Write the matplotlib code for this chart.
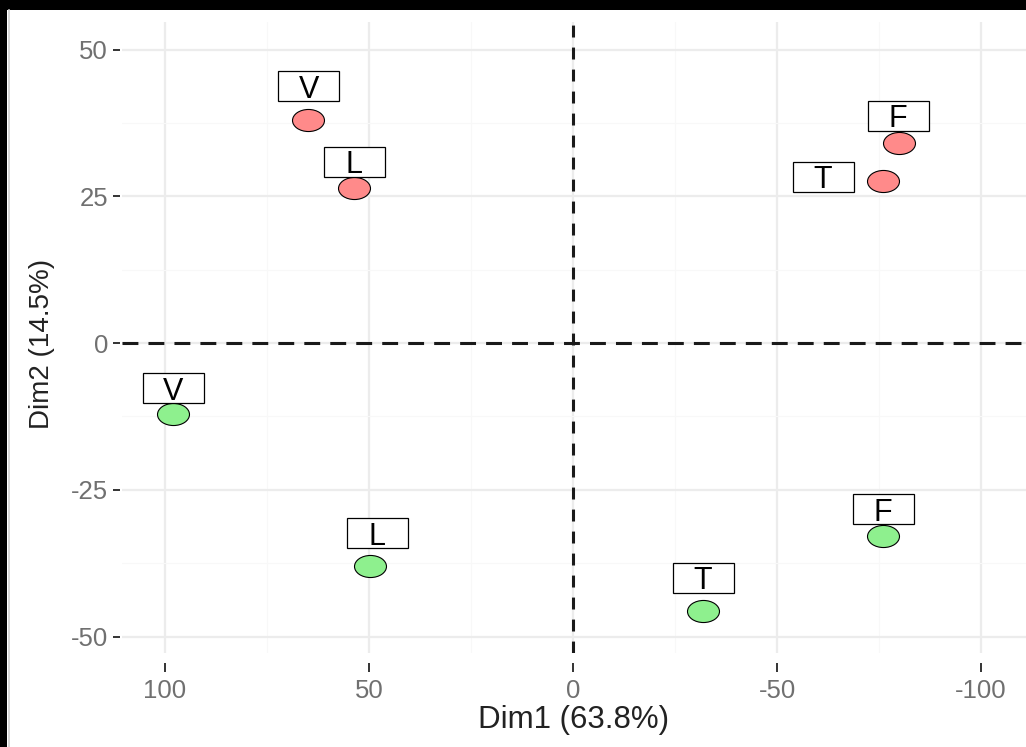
import matplotlib
matplotlib.use('Agg')
import matplotlib.pyplot as plt
from matplotlib.patches import Rectangle
from matplotlib.lines import Line2D
from matplotlib.path import Path
from matplotlib.transforms import Affine2D

plt.rcParams['font.family'] = ['Liberation Sans', 'DejaVu Sans']

# individuals: first group (red) and second group (green)
red_names = ['V', 'L', 'F', 'T']
red_dim1 = [65.0, 53.7, -79.9, -76.0]
red_dim2 = [38.0, 26.4, 34.1, 27.6]
red_lab_x = [64.7, 53.6, -79.7, -61.3]
red_lab_y = [43.8, 30.9, 38.7, 28.3]

green_names = ['V', 'L', 'F', 'T']
green_dim1 = [98.0, 49.8, -76.0, -31.9]
green_dim2 = [-12.1, -38.0, -32.9, -45.7]
green_lab_x = [98.0, 48.0, -76.0, -31.9]
green_lab_y = [-7.7, -32.4, -28.3, -40.0]

x_ticks = [100, 50, 0, -50, -100]
x_ticklabels = ['100', '50', '0', '-50', '-100']
y_ticks = [50, 25, 0, -25, -50]
y_ticklabels = ['50', '25', '0', '-25', '-50']

W, H = 1026, 747
fig = plt.figure(figsize=(W / 100, H / 100), dpi=100, facecolor='black')
fig.add_artist(Rectangle((7 / W, 0), 1, 737 / H, transform=fig.transFigure,
                         facecolor='white', edgecolor='none', zorder=-10))
fig.add_artist(Line2D([8.5 / W, 8.5 / W], [0, 737 / H], transform=fig.transFigure,
                      color='#cfcfcf', lw=1.2))

left_px, right_px, top_px, bottom_px = 122, 1026, 22, 653
ax = fig.add_axes([left_px / W, (H - bottom_px) / H,
                   (right_px - left_px) / W, (bottom_px - top_px) / H])
ax.set_facecolor('white')
xlim = (110.5, -111.0)
ylim = (-52.8, 54.7)
ax.set_xlim(*xlim)
ax.set_ylim(*ylim)

ax.set_xticks(x_ticks)
ax.set_xticklabels(x_ticklabels)
ax.set_yticks(y_ticks)
ax.set_yticklabels(y_ticklabels)
ax.set_xticks([75, 25, -25, -75], minor=True)
ax.set_yticks([37.5, 12.5, -12.5, -37.5], minor=True)
ax.grid(which='major', color='#ececec', lw=1.6)
ax.grid(which='minor', color='#f8f8f8', lw=0.8)
ax.set_axisbelow(True)
for s in ax.spines.values():
    s.set_visible(False)
ax.spines['bottom'].set_position(('outward', 7))
ax.spines['left'].set_position(('outward', 1.5))
ax.tick_params(which='minor', length=0)
ax.tick_params(axis='x', which='major', length=6.5, width=1.4, color='#333333',
               labelsize=18.5, labelcolor='#707070', pad=5)
ax.tick_params(axis='y', which='major', length=5, width=1.4, color='#333333',
               labelsize=18.5, labelcolor='#707070', pad=3.5)

# reference lines
ax.axvline(0, color='#1a1a1a', lw=2.2, dashes=(3.9, 3.3), zorder=2)
ax.axhline(0, color='#1a1a1a', lw=2.2, dashes=(5.2, 3.3), zorder=2)

# ellipse marker
ellipse = Affine2D().scale(1, 0.69).transform_path(Path.unit_circle())
ax.scatter(red_dim1, red_dim2, s=530, marker=ellipse, facecolor='#ff8a8a',
           edgecolor='black', linewidths=0.8, zorder=4)
ax.scatter(green_dim1, green_dim2, s=530, marker=ellipse, facecolor='#8ef08e',
           edgecolor='black', linewidths=0.8, zorder=4)

# label boxes (fixed 61x30 px)
ux = (xlim[0] - xlim[1]) / (right_px - left_px)
uy = (ylim[1] - ylim[0]) / (bottom_px - top_px)
bw, bh = 61 * ux, 30 * uy
for names, lx, ly in [(red_names, red_lab_x, red_lab_y),
                      (green_names, green_lab_x, green_lab_y)]:
    for n, x, y in zip(names, lx, ly):
        ax.add_patch(Rectangle((x - bw / 2, y - bh / 2), bw, bh, facecolor='white',
                               edgecolor='black', lw=0.9, zorder=5))
        ax.annotate(n, (x, y), xytext=(0, -8.3), textcoords='offset points',
                    ha='center', va='baseline', fontsize=22, color='black',
                    zorder=6)

ax.set_xlabel('Dim1 (63.8%)', fontsize=22.5, color='#222222')
ax.xaxis.set_label_coords(0.5, -0.082)
ax.set_ylabel('Dim2 (14.5%)', fontsize=20, color='#222222')
ax.yaxis.set_label_coords(-0.074, 0.49)

fig.savefig('out.png', dpi=100, facecolor=fig.get_facecolor())
